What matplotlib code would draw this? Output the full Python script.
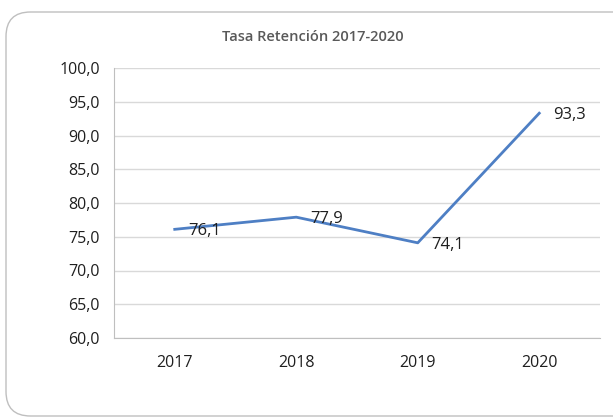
import matplotlib
matplotlib.use('Agg')
import matplotlib.pyplot as plt
from matplotlib.patches import FancyBboxPatch

years = ['2017', '2018', '2019', '2020']
retention = [76.1, 77.9, 74.1, 93.3]
y_ticks = [60, 65, 70, 75, 80, 85, 90, 95, 100]

plt.rcParams['font.family'] = ['Open Sans', 'DejaVu Sans']

fig = plt.figure(figsize=(6.13, 4.17), dpi=100)
W, H = 613, 417

# rounded chart frame
frame = FancyBboxPatch((6 / W, 1 / H), 640 / W, 404 / H,
                       boxstyle='round,pad=0,rounding_size=0.04',
                       transform=fig.transFigure, facecolor='white',
                       edgecolor='#bfbfbf', linewidth=1.0, mutation_aspect=W / H,
                       zorder=-5)
fig.patches.append(frame)

ax = fig.add_axes([114 / W, 1 - 338 / H, 486 / W, 270 / H])
ax.set_zorder(5)
ax.set_facecolor('none')

x = list(range(len(years)))
ax.plot(x, retention, color='#4e7fc4', linewidth=2.0)
for xi, v in zip(x, retention):
    ax.annotate(f'{v:.1f}'.replace('.', ','), (xi, v), xytext=(10, -1.5),
                textcoords='offset points', ha='left', va='center',
                fontsize=12, color='#1f1f1f')

ax.set_xlim(-0.5, len(years) - 0.5)
ax.set_ylim(60, 100)
ax.set_xticks(x)
ax.set_xticklabels(years)
ax.set_yticks(y_ticks)
ax.set_yticklabels([f'{t:.1f}'.replace('.', ',') for t in y_ticks])
ax.tick_params(length=0, labelsize=11.5, labelcolor='#1f1f1f')
ax.tick_params(axis='x', pad=12)
ax.tick_params(axis='y', pad=10)

ax.grid(axis='y', color='#d9d9d9', linewidth=1.0)
ax.set_axisbelow(True)
for s in ['top', 'right']:
    ax.spines[s].set_visible(False)
ax.spines['left'].set_color('#bfbfbf')
ax.spines['bottom'].set_color('#bfbfbf')

fig.text(313 / W, 1 - 37 / H, 'Tasa Retención 2017-2020', ha='center', va='center',
         fontsize=10.5, fontweight='semibold', color='#595959', zorder=6)

fig.savefig('out.png', dpi=100)
